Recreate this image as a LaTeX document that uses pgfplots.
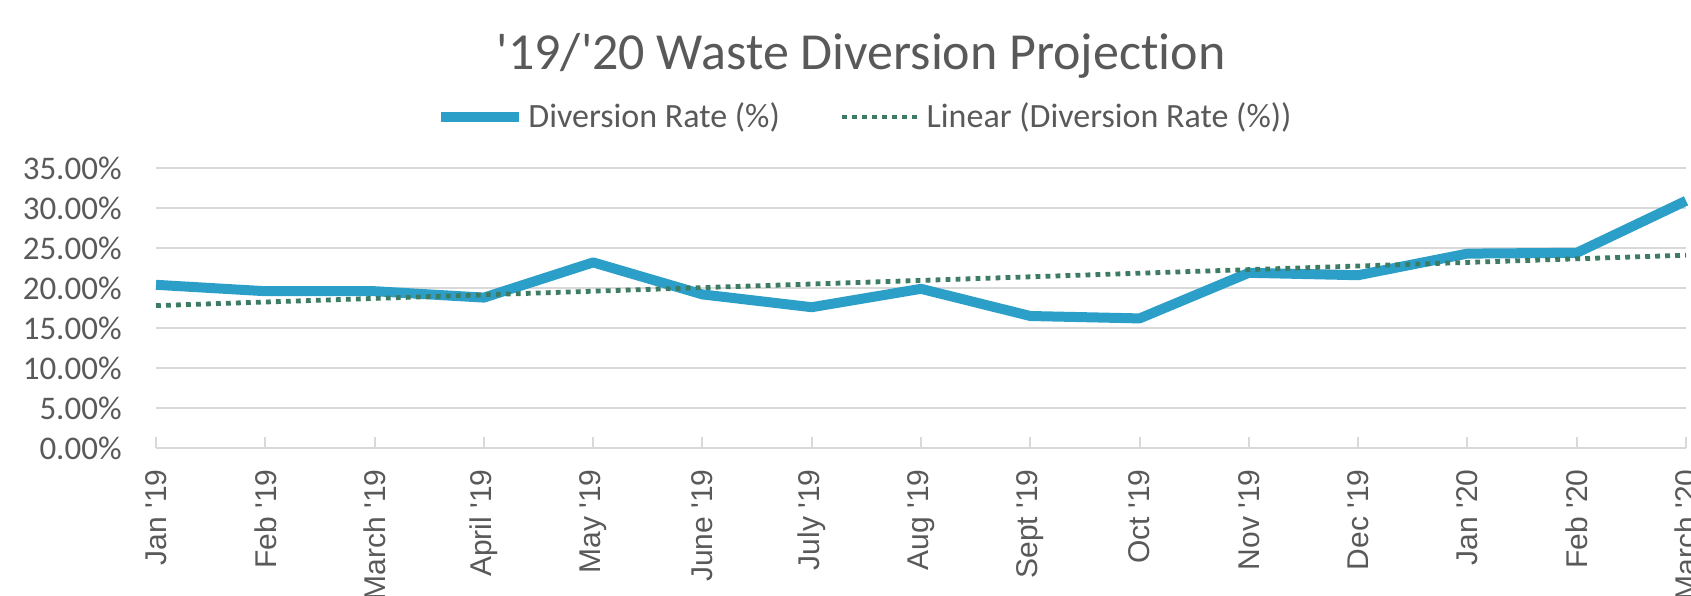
\documentclass[border=0pt]{standalone}
\usepackage{fontspec}
\setmainfont{Carlito}[Ligatures=NoCommon]
\newfontfamily\arialfont{Liberation Sans}
\usepackage{pgfplots}
\pgfplotsset{compat=1.18}
\definecolor{divblue}{HTML}{2C9FC9}
\definecolor{trendgreen}{HTML}{3E7B63}
\definecolor{txtgray}{HTML}{595959}
\definecolor{gridgray}{HTML}{D9D9D9}

\begin{document}
\begin{tikzpicture}
  % picture is 1691x595 px at 0.5pt per px, top edge at y=0
  \useasboundingbox (0,0) rectangle (845.5pt,-297.5pt);
  \clip (0,0) rectangle (845.5pt,-297.5pt);

  \node[anchor=base, text=txtgray, font=\fontsize{26}{30}\selectfont]
    at (430.5pt,-34.5pt) {\textquotesingle19/\textquotesingle20 Waste Diversion Projection};

  \begin{axis}[
      at={(78pt,-224pt)}, anchor=south west,
      width=765pt, height=140pt, scale only axis,
      xmin=0, xmax=14, ymin=0, ymax=35,
      axis line style={draw=none},
      xtick={0,...,14},
      xticklabels={Jan \textquotesingle19, Feb \textquotesingle19, March \textquotesingle19,
        April \textquotesingle19, May \textquotesingle19, June \textquotesingle19,
        July \textquotesingle19, Aug \textquotesingle19, Sept \textquotesingle19,
        Oct \textquotesingle19, Nov \textquotesingle19, Dec \textquotesingle19,
        Jan \textquotesingle20, Feb \textquotesingle20, March \textquotesingle20},
      xtick pos=bottom, tick align=inside,
      major tick length=5.5pt,
      xtick style={draw=gridgray, line width=1pt},
      xticklabel style={rotate=90, anchor=east, inner sep=0pt, text=txtgray,
                        font=\arialfont\fontsize{15}{17}\selectfont},
      xticklabel shift=10.5pt,
      ytick={0,5,...,35},
      ytick pos=left,
      ytick style={draw=none},
      yticklabel={\pgfmathprintnumber[fixed,fixed zerofill,precision=2]{\tick}\%},
      /pgf/number format/assume math mode=true,
      yticklabel style={anchor=east, inner sep=0pt, text=txtgray,
                        font=\fontsize{16.5}{18}\selectfont},
      yticklabel shift=17pt,
      ymajorgrids,
      grid style={gridgray, line width=1.2pt},
      clip=false,
      legend columns=2,
      legend style={at={(0.464,1.182)}, anchor=center, draw=none, fill=none,
                    text=txtgray, font=\fontsize{17}{19}\selectfont,
                    inner sep=0pt,
                    /tikz/every even column/.append style={column sep=28pt}},
      legend cell align=left,
      legend image code/.code={\draw[#1] (0pt,0pt) -- (39pt,0pt);},
    ]
    \addplot[divblue, line width=5pt, line join=round] coordinates {
      (0,20.4) (1,19.6) (2,19.6) (3,18.8) (4,23.2) (5,19.2) (6,17.6)
      (7,19.9) (8,16.5) (9,16.2) (10,21.9) (11,21.6) (12,24.3) (13,24.4)
      (14,30.9)};
    \addlegendentry{Diversion Rate (\%)}

    \addplot[trendgreen, line width=2.4pt, dash pattern=on 2.4pt off 2.6pt]
      coordinates {(0,17.8) (14,24.1)};
    \addlegendentry{Linear (Diversion Rate (\%))}
  \end{axis}
\end{tikzpicture}
\end{document}
